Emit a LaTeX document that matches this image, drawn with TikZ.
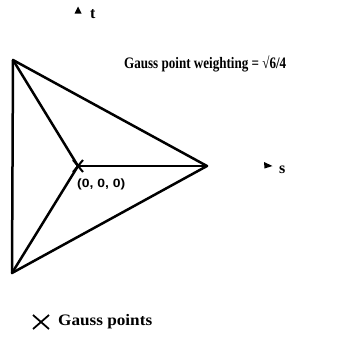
\documentclass[tikz,border=0pt]{standalone}
\usepackage{fontspec}
\usepackage{graphicx}
\usetikzlibrary{calc}
\setmainfont{Liberation Serif}
\setsansfont{Liberation Sans}
\begin{document}
\begin{tikzpicture}[x=1pt,y=-1pt,
  edge/.style={line width=2.5pt,line join=round,line cap=round},
  crossline/.style={line width=2pt},
  lbl/.style={inner sep=0pt,font=\fontsize{16}{16}\selectfont\bfseries},
  tip/.style={fill=black}]
\useasboundingbox (0,0) rectangle (347,338);
% vertices
\coordinate (B) at (13,60);
\coordinate (A) at (12,273);
\coordinate (C) at (207,166);
\coordinate (O) at (78,166);
\draw[edge] (B) -- (A) -- (C) -- cycle;
\draw[edge] (B) -- (O);
\draw[edge] (A) -- (O);
\draw[edge] (C) -- (O);
% gauss point cross
\draw[crossline] ($(O)+(-5,-6)$) -- ($(O)+(5,6)$);
\draw[crossline] ($(O)+(-5,6)$) -- ($(O)+(5,-6)$);
\node[inner sep=0pt,anchor=west,font=\sffamily\bfseries\fontsize{12}{12}\selectfont] (origin) at (77,184.5) {\resizebox{48pt}{\height}{(0, 0, 0)}};
% axes tips
\fill[tip] (78,6.5) -- (81.5,13.5) -- (74.5,13.5) -- cycle;
\node[lbl,anchor=west] (tlab) at (90,14) {t};
\fill[tip] (272.5,166) -- (264,162) -- (264.5,168.5) -- cycle;
\node[lbl,anchor=west] (slab) at (279,170) {s};
% title
\node[lbl,anchor=west] (title) at (124,63.5) {\resizebox{162pt}{\height}{Gauss point weighting = √6/4}};
% legend
\draw[line width=1.8pt] (33,315) -- (49,329);
\draw[line width=1.8pt] (33,329) -- (49,315);
\node[lbl,anchor=west] (legend) at (58,322) {\resizebox{94pt}{\height}{Gauss points}};
\end{tikzpicture}
\end{document}
